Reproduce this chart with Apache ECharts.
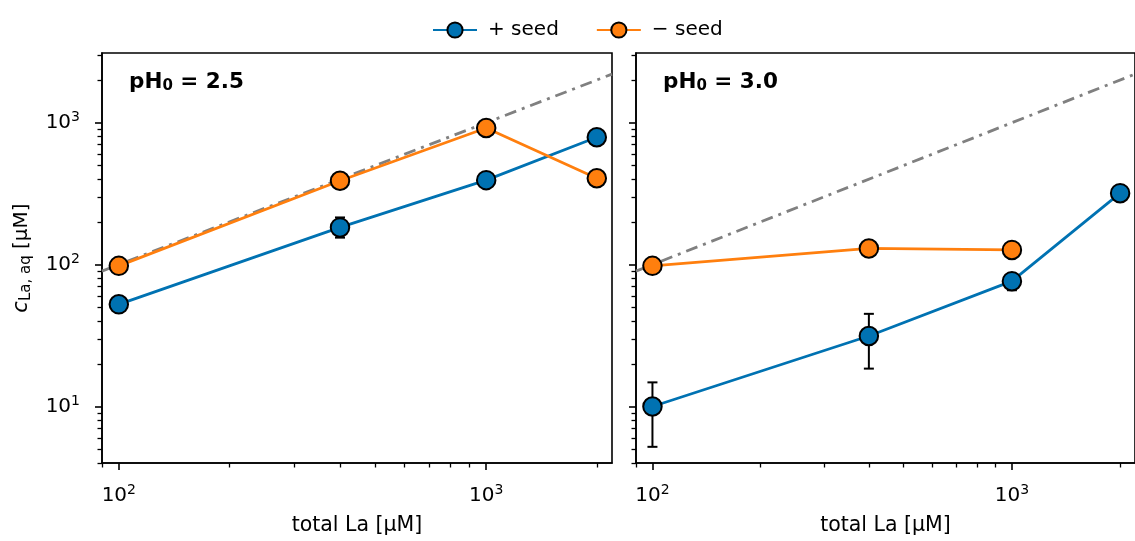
<!DOCTYPE html>
<html><head><meta charset="utf-8">
<script src="https://cdn.jsdelivr.net/npm/echarts@6/dist/echarts.min.js"></script>
<style>html,body{margin:0;padding:0;background:#fff}#c{width:1135px;height:541px}</style>
</head><body><div id="c"></div>
<script>
// ---- data ----
const totalLa = [100, 400, 1000, 2000];
const seedPH25 = [52.5, 183, 394, 790];
const noSeedPH25 = [98, 390, 918, 406];
const seedPH30 = [10.0, 31.4, 76.5, 319];
const noSeedPH30 = [98, 130, 127];          // at totalLa 100, 400, 1000
const errPH25X = [400, 2000];
const errPH25Lo = [155, 700];
const errPH25Hi = [215, 885];
const errPH30X = [100, 400, 1000];
const errPH30Lo = [5.2, 18.5, 66];
const errPH30Hi = [14.8, 45, 86];
const refLineX = [90, 2200];                  // 1:1 line, y = x
const xMajorTicks = [100, 1000];
const xMinorTicks = [90, 200, 300, 400, 500, 600, 700, 800, 900, 2000];
const yMajorTicks = [10, 100, 1000];
const yMinorTicks = [4, 5, 6, 7, 8, 9, 20, 30, 40, 50, 60, 70, 80, 90, 200, 300, 400, 500, 600, 700, 800, 900, 2000, 3000];
const legendNames = ['+ seed', '\u2212 seed'];
const panelTitles = ['2.5', '3.0'];

// ---- style ----
const FONT = 'DejaVu Sans';
const BLUE = '#0072b2', ORANGE = '#ff7f0e', GRAY = '#808080';
const xMin = 90, xMax = 2200, yMin = 4, yMax = 3100;
const grids = [
  {left: 102, top: 53, width: 510, height: 419},
  {left: 636, top: 53, width: 510, height: 419}
];
const supRich = {sup: {fontSize: 14, fontFamily: FONT, color: '#000', padding: [0, 0, 11, 0]}};
function supFmt(v) { return '10{sup|' + Math.round(Math.log10(v)) + '}'; }

function xAxesFor(g) {
  return [
    {gridIndex: g, type: 'log', logBase: 10, min: xMin, max: xMax, position: 'bottom',
     axisLine: {show: true, lineStyle: {color: '#000', width: 1.6}},
     axisTick: {show: true, customValues: xMajorTicks, length: 7, lineStyle: {color: '#000', width: 1.6}},
     axisLabel: {show: true, customValues: xMajorTicks, formatter: supFmt, margin: 20, color: '#000',
                 fontSize: 20, fontFamily: FONT, rich: supRich},
     splitLine: {show: false}, minorTick: {show: false}, minorSplitLine: {show: false},
     name: 'total La [\u00b5M]', nameLocation: 'middle', nameGap: 52,
     nameTextStyle: {fontSize: 20.5, fontFamily: FONT, color: '#000'}},
    {gridIndex: g, type: 'log', logBase: 10, min: xMin, max: xMax, position: 'bottom',
     axisLine: {show: false},
     axisTick: {show: true, customValues: xMinorTicks, length: 4.5, lineStyle: {color: '#000', width: 1.3}},
     axisLabel: {show: false}, splitLine: {show: false}}
  ];
}
function yAxesFor(g) {
  const main = {gridIndex: g, type: 'log', logBase: 10, min: yMin, max: yMax, position: 'left',
     axisLine: {show: true, lineStyle: {color: '#000', width: 1.6}},
     axisTick: {show: true, customValues: yMajorTicks, length: 7, lineStyle: {color: '#000', width: 1.6}},
     axisLabel: {show: g === 0, customValues: yMajorTicks, formatter: supFmt, margin: 22, color: '#000',
                 fontSize: 20, fontFamily: FONT, rich: supRich},
     splitLine: {show: false}, minorTick: {show: false}, minorSplitLine: {show: false}};
  if (g === 0) {
    main.name = '{i|c}{s|La, aq} [\u00b5M]';
    main.nameLocation = 'middle';
    main.nameRotate = 90;
    main.nameGap = 68;
    main.nameTextStyle = {fontSize: 20, fontFamily: FONT, color: '#000',
      rich: {i: {fontSize: 21, fontStyle: 'italic', fontFamily: FONT, color: '#000'},
             s: {fontSize: 15, fontFamily: FONT, color: '#000', padding: [9, 0, 0, 0]}}};
  }
  return [main,
    {gridIndex: g, type: 'log', logBase: 10, min: yMin, max: yMax, position: 'left',
     axisLine: {show: false},
     axisTick: {show: true, customValues: yMinorTicks, length: 4.5, lineStyle: {color: '#000', width: 1.3}},
     axisLabel: {show: false}, splitLine: {show: false}}];
}

function errSeries(axisIdx, xs, lo, hi) {
  return {
    type: 'custom', xAxisIndex: axisIdx, yAxisIndex: axisIdx, z: 3, silent: true,
    data: xs.map((x, i) => [x, lo[i], hi[i]]),
    encode: {x: 0, y: [1, 2]},
    renderItem: function (params, api) {
      const p1 = api.coord([api.value(0), api.value(1)]);
      const p2 = api.coord([api.value(0), api.value(2)]);
      const w = 5, st = {stroke: '#000', lineWidth: 2};
      return {type: 'group', children: [
        {type: 'line', shape: {x1: p1[0], y1: p1[1], x2: p2[0], y2: p2[1]}, style: st},
        {type: 'line', shape: {x1: p1[0] - w, y1: p1[1], x2: p1[0] + w, y2: p1[1]}, style: st},
        {type: 'line', shape: {x1: p2[0] - w, y1: p2[1], x2: p2[0] + w, y2: p2[1]}, style: st}
      ]};
    }
  };
}
function lineSeries(name, color, axisIdx, xs, ys, z) {
  return {
    name: name, type: 'line', xAxisIndex: axisIdx, yAxisIndex: axisIdx, z: z,
    data: ys.map((y, i) => [xs[i], y]),
    symbol: 'circle', symbolSize: 18.5, showSymbol: true,
    lineStyle: {color: color, width: 2.8},
    itemStyle: {color: color, borderColor: '#000', borderWidth: 2},
    emphasis: {disabled: true}, animation: false
  };
}
function refSeries(axisIdx) {
  return {
    name: 'ref', type: 'line', xAxisIndex: axisIdx, yAxisIndex: axisIdx, z: 2, silent: true,
    data: refLineX.map(v => [v, v]), symbol: 'none',
    lineStyle: {color: GRAY, width: 2.8, type: [12, 6, 3, 6]}, animation: false
  };
}

const option = {
  animation: false,
  backgroundColor: '#fff',
  grid: grids.map(g => Object.assign({show: true, borderColor: '#000', borderWidth: 1.6,
                                      backgroundColor: 'transparent', containLabel: false}, g)),
  xAxis: [...xAxesFor(0), ...xAxesFor(1)],
  yAxis: [...yAxesFor(0), ...yAxesFor(1)],
  legend: {
    data: legendNames, left: 427, top: 15, itemWidth: 44, itemHeight: 19, itemGap: 37,
    textStyle: {fontSize: 20, fontFamily: FONT, color: '#000', padding: [0, 0, 0, 6]},
    selectedMode: false
  },
  graphic: panelTitles.map((t, i) => ({
    type: 'text', left: grids[i].left + 27, top: 71,
    style: {text: '{b|pH}{s|0}{b| = ' + t + '}', fill: '#000',
      rich: {b: {fontSize: 21.5, fontWeight: 'bold', fontFamily: FONT, color: '#000'},
             s: {fontSize: 15, fontWeight: 'bold', fontFamily: FONT, color: '#000', padding: [9, 0, 0, 0]}}}
  })),
  series: [
    refSeries(0),
    errSeries(0, errPH25X, errPH25Lo, errPH25Hi),
    lineSeries(legendNames[0], BLUE, 0, totalLa, seedPH25, 4),
    lineSeries(legendNames[1], ORANGE, 0, totalLa, noSeedPH25, 5),
    refSeries(2),
    errSeries(2, errPH30X, errPH30Lo, errPH30Hi),
    lineSeries(legendNames[0], BLUE, 2, totalLa, seedPH30, 4),
    lineSeries(legendNames[1], ORANGE, 2, totalLa.slice(0, 3), noSeedPH30, 5)
  ]
};
const chart = echarts.init(document.getElementById('c'), null, {renderer: 'canvas'});
chart.setOption(option);
</script>
</body></html>
